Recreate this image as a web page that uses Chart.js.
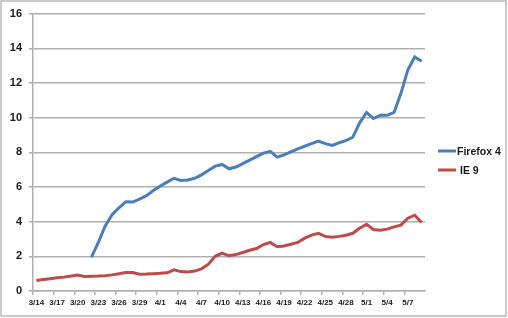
<!DOCTYPE html>
<html>
<head>
<meta charset="utf-8">
<script src="https://cdn.jsdelivr.net/npm/chart.js@4.4.1/dist/chart.umd.min.js"></script>
<style>
  html, body { margin: 0; padding: 0; background: #fff; }
  canvas { display: block; }
</style>
</head>
<body>
<canvas id="chart" width="508" height="318"></canvas>
<script>
// 날짜 (3/14 ~ 5/9)
const dates = [
    '3/14','3/15','3/16','3/17','3/18','3/19','3/20','3/21','3/22','3/23',
    '3/24','3/25','3/26','3/27','3/28','3/29','3/30','3/31','4/1','4/2',
    '4/3','4/4','4/5','4/6','4/7','4/8','4/9','4/10','4/11','4/12',
    '4/13','4/14','4/15','4/16','4/17','4/18','4/19','4/20','4/21','4/22',
    '4/23','4/24','4/25','4/26','4/27','4/28','4/29','4/30','5/1','5/2',
    '5/3','5/4','5/5','5/6','5/7','5/8','5/9'
];

const firefox4 = [
    null, null, null, null, null, null, null, null, 1.95, 2.8,
    3.75, 4.4, 4.8, 5.15, 5.13, 5.3, 5.5, 5.8, 6.05, 6.28,
    6.5, 6.38, 6.4, 6.5, 6.7, 6.95, 7.2, 7.3, 7.05, 7.15,
    7.35, 7.55, 7.75, 7.95, 8.05, 7.72, 7.85, 8.03, 8.2, 8.35,
    8.5, 8.65, 8.5, 8.4, 8.55, 8.67, 8.87, 9.7, 10.3, 9.95,
    10.13, 10.13, 10.3, 11.4, 12.75, 13.5, 13.25
];

const ie9 = [
    0.6, 0.66, 0.71, 0.76, 0.8, 0.86, 0.92, 0.84, 0.85, 0.86,
    0.88, 0.93, 1.0, 1.06, 1.06, 0.97, 0.98, 1.0, 1.02, 1.05,
    1.22, 1.12, 1.1, 1.15, 1.28, 1.55, 2.0, 2.18, 2.03, 2.1,
    2.22, 2.35, 2.45, 2.68, 2.8, 2.55, 2.6, 2.7, 2.8, 3.05,
    3.22, 3.33, 3.15, 3.1, 3.15, 3.22, 3.33, 3.62, 3.85, 3.55,
    3.5, 3.57, 3.7, 3.8, 4.2, 4.37, 3.95
];

const yTicks = [0, 2, 4, 6, 8, 10, 12, 14, 16];

const gridGray = '#b0b0b0';

// 테두리 + 오른쪽 범례
const framePlugin = {
    id: 'frame',
    beforeDraw(chart) {
        const ctx = chart.ctx;
        ctx.save();
        ctx.fillStyle = '#fff';
        ctx.fillRect(0, 0, chart.width, chart.height);
        ctx.strokeStyle = '#b8b8b8';
        ctx.lineWidth = 1.5;
        ctx.strokeRect(1, 1, chart.width - 3, chart.height - 3);
        ctx.restore();
    },
    afterDraw(chart) {
        const ctx = chart.ctx;
        ctx.save();
        ctx.font = 'bold 10.5px "Liberation Sans", Arial, sans-serif';
        ctx.textBaseline = 'middle';
        chart.data.datasets.forEach((ds, i) => {
            const y = 151 + i * 19;
            ctx.strokeStyle = ds.borderColor;
            ctx.lineWidth = 3;
            ctx.beginPath();
            ctx.moveTo(438, y);
            ctx.lineTo(456, y);
            ctx.stroke();
            ctx.fillStyle = '#1a1a1a';
            ctx.fillText(ds.label, 457 + (i === 1 ? 3 : 0), y + 1);
        });
        ctx.restore();
    }
};

new Chart(document.getElementById('chart'), {
    type: 'line',
    data: {
        labels: dates,
        datasets: [
            {
                label: 'Firefox 4',
                data: firefox4,
                borderColor: '#4a7ebb',
                borderWidth: 3,
                pointRadius: 0,
                tension: 0,
                spanGaps: false
            },
            {
                label: 'IE 9',
                data: ie9,
                borderColor: '#be4b48',
                borderWidth: 3,
                pointRadius: 0,
                tension: 0
            }
        ]
    },
    options: {
        responsive: false,
        animation: false,
        layout: { padding: { top: 13, right: 83, bottom: 9, left: 0 } },
        plugins: {
            legend: { display: false },
            tooltip: { enabled: false }
        },
        scales: {
            x: {
                offset: true,
                grid: {
                    offset: true,
                    drawOnChartArea: false,
                    drawTicks: true,
                    tickLength: 4,
                    color: (c) => (c.index % 3 === 0 ? gridGray : 'rgba(0,0,0,0)'),
                    lineWidth: 1.5
                },
                border: { color: gridGray, width: 1.5 },
                ticks: {
                    autoSkip: false,
                    maxRotation: 0,
                    padding: 3,
                    color: '#1a1a1a',
                    font: { family: '"Liberation Sans", Arial, sans-serif', size: 8, weight: 'bold' },
                    callback: function (v, i) { return i % 3 === 0 ? dates[i] : ''; }
                },
                afterFit(scale) { scale.height = 18; }
            },
            y: {
                min: 0,
                max: 16,
                afterBuildTicks(scale) { scale.ticks = yTicks.map(v => ({ value: v })); },
                grid: {
                    color: gridGray,
                    lineWidth: 1.5,
                    tickLength: 4
                },
                border: { color: gridGray, width: 1.5 },
                ticks: {
                    padding: 7,
                    color: '#1a1a1a',
                    font: { family: '"Liberation Sans", Arial, sans-serif', size: 11, weight: 'bold' }
                },
                afterFit(scale) { scale.width = 33; }
            }
        }
    },
    plugins: [framePlugin]
});
</script>
</body>
</html>
